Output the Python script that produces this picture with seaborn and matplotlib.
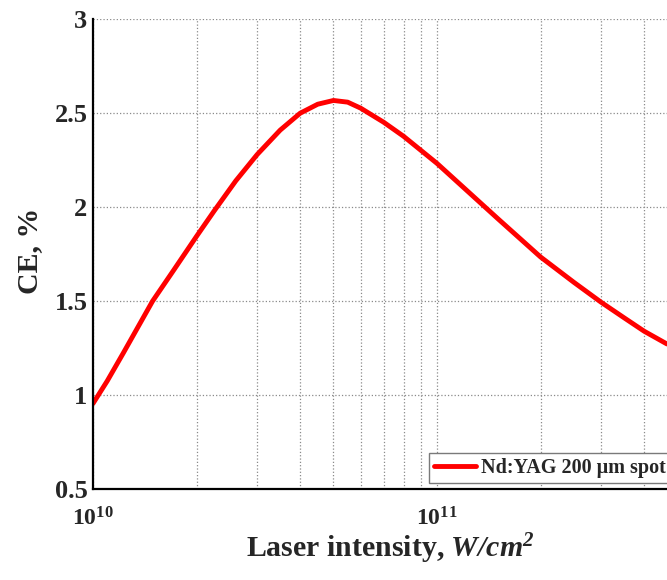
import matplotlib
matplotlib.use("Agg")
import matplotlib.pyplot as plt
import matplotlib.ticker as mticker
import seaborn as sns
import pandas as pd

# ---- data ----
intensity = [1.0e10, 1.1e10, 1.226e10, 1.49e10, 1.715e10, 2.0e10, 2.25e10, 2.6e10,
             3.0e10, 3.5e10, 4.0e10, 4.5e10, 5.0e10, 5.5e10, 6.0e10, 7.0e10,
             8.0e10, 1.0e11, 1.5e11, 2.0e11, 2.5e11, 3.0e11, 3.5e11, 4.0e11, 4.66e11]
ce = [0.955, 1.075, 1.225, 1.50, 1.664, 1.845, 1.98, 2.14,
      2.28, 2.41, 2.50, 2.548, 2.568, 2.559, 2.527, 2.452,
      2.377, 2.233, 1.94, 1.735, 1.60, 1.494, 1.411, 1.34, 1.272]
series_label = "Nd:YAG 200 \u03bcm spot"
y_ticks = [0.5, 1, 1.5, 2, 2.5, 3]
x_ticks = [1e10, 1e11]
x_ticklabels = [r"$\mathbf{10^{10}}$", r"$\mathbf{10^{11}}$"]

df = pd.DataFrame({"intensity": intensity, "CE": ce})

sns.set_style("white")
plt.rcParams["font.family"] = ["Liberation Serif", "DejaVu Serif"]
plt.rcParams["font.weight"] = "bold"
plt.rcParams["mathtext.fontset"] = "custom"
plt.rcParams["mathtext.rm"] = "Liberation Serif:bold"
plt.rcParams["mathtext.bf"] = "Liberation Serif:bold"
plt.rcParams["mathtext.it"] = "Liberation Serif:italic:bold"
plt.rcParams["mathtext.bfit"] = "Liberation Serif:italic:bold"

W, H = 667, 580
fig = plt.figure(figsize=(W / 100, H / 100), dpi=100)
x0, x1 = 93, 781
y0, y1 = 489, 19.3
ax = fig.add_axes([x0 / W, (H - y0) / H, (x1 - x0) / W, (y0 - y1) / H])
ax.set_xscale("log")

sns.lineplot(data=df, x="intensity", y="CE", ax=ax, color="red", lw=3.5,
             label=series_label, sort=False)

ax.set_xlim(1e10, 1e12)
ax.set_ylim(0.5, 3)
ax.set_yticks(y_ticks)
ax.yaxis.set_major_formatter(mticker.FormatStrFormatter("%g"))
ax.set_xticks(x_ticks)
ax.set_xticklabels(x_ticklabels)
ax.xaxis.set_minor_locator(mticker.LogLocator(base=10, subs=range(2, 10)))
ax.xaxis.set_minor_formatter(mticker.NullFormatter())

for lab in ax.get_yticklabels():
    lab.set_fontweight("bold")
ax.tick_params(axis="y", which="major", direction="in", length=6, width=1.3,
               labelsize=19, pad=4)
ax.tick_params(axis="x", which="major", direction="in", length=6, width=1.3,
               labelsize=17, pad=13)
ax.tick_params(axis="x", which="minor", direction="in", length=4, width=1.0)

ax.grid(True, which="major", axis="both", linestyle=":", color="#8a8a8a", lw=0.9)
ax.grid(True, which="minor", axis="x", linestyle=":", color="#8a8a8a", lw=0.9)

for s in ["top", "right"]:
    ax.spines[s].set_visible(False)
for s in ["left", "bottom"]:
    ax.spines[s].set_color("black")
    ax.spines[s].set_linewidth(1.6)

ax.set_xlabel("")
ax.set_ylabel("")
fig.text(390 / W, (H - 557) / H, r"Laser intensity, $\mathbfit{W/cm}^{\mathbfit{2}}$",
         ha="center", va="baseline", fontsize=21.5, fontweight="bold")
fig.text(30 / W, 1 - 251 / H, "CE, %", rotation=90, ha="center", va="center",
         fontsize=21.5, fontweight="bold")

leg = ax.legend(loc="lower left", bbox_to_anchor=((429 - x0) / (x1 - x0), (y0 - 483) / (y0 - y1)),
                borderaxespad=0, frameon=True, fancybox=False, framealpha=1,
                prop={"family": "Liberation Serif", "weight": "bold", "size": 14.5},
                handlelength=2.1, handletextpad=0.25, borderpad=0.25)
leg.get_frame().set_edgecolor("#7a7a7a")
leg.get_frame().set_linewidth(1.0)
for line in leg.get_lines():
    line.set_linewidth(3.5)

fig.savefig("out.png", dpi=100)
